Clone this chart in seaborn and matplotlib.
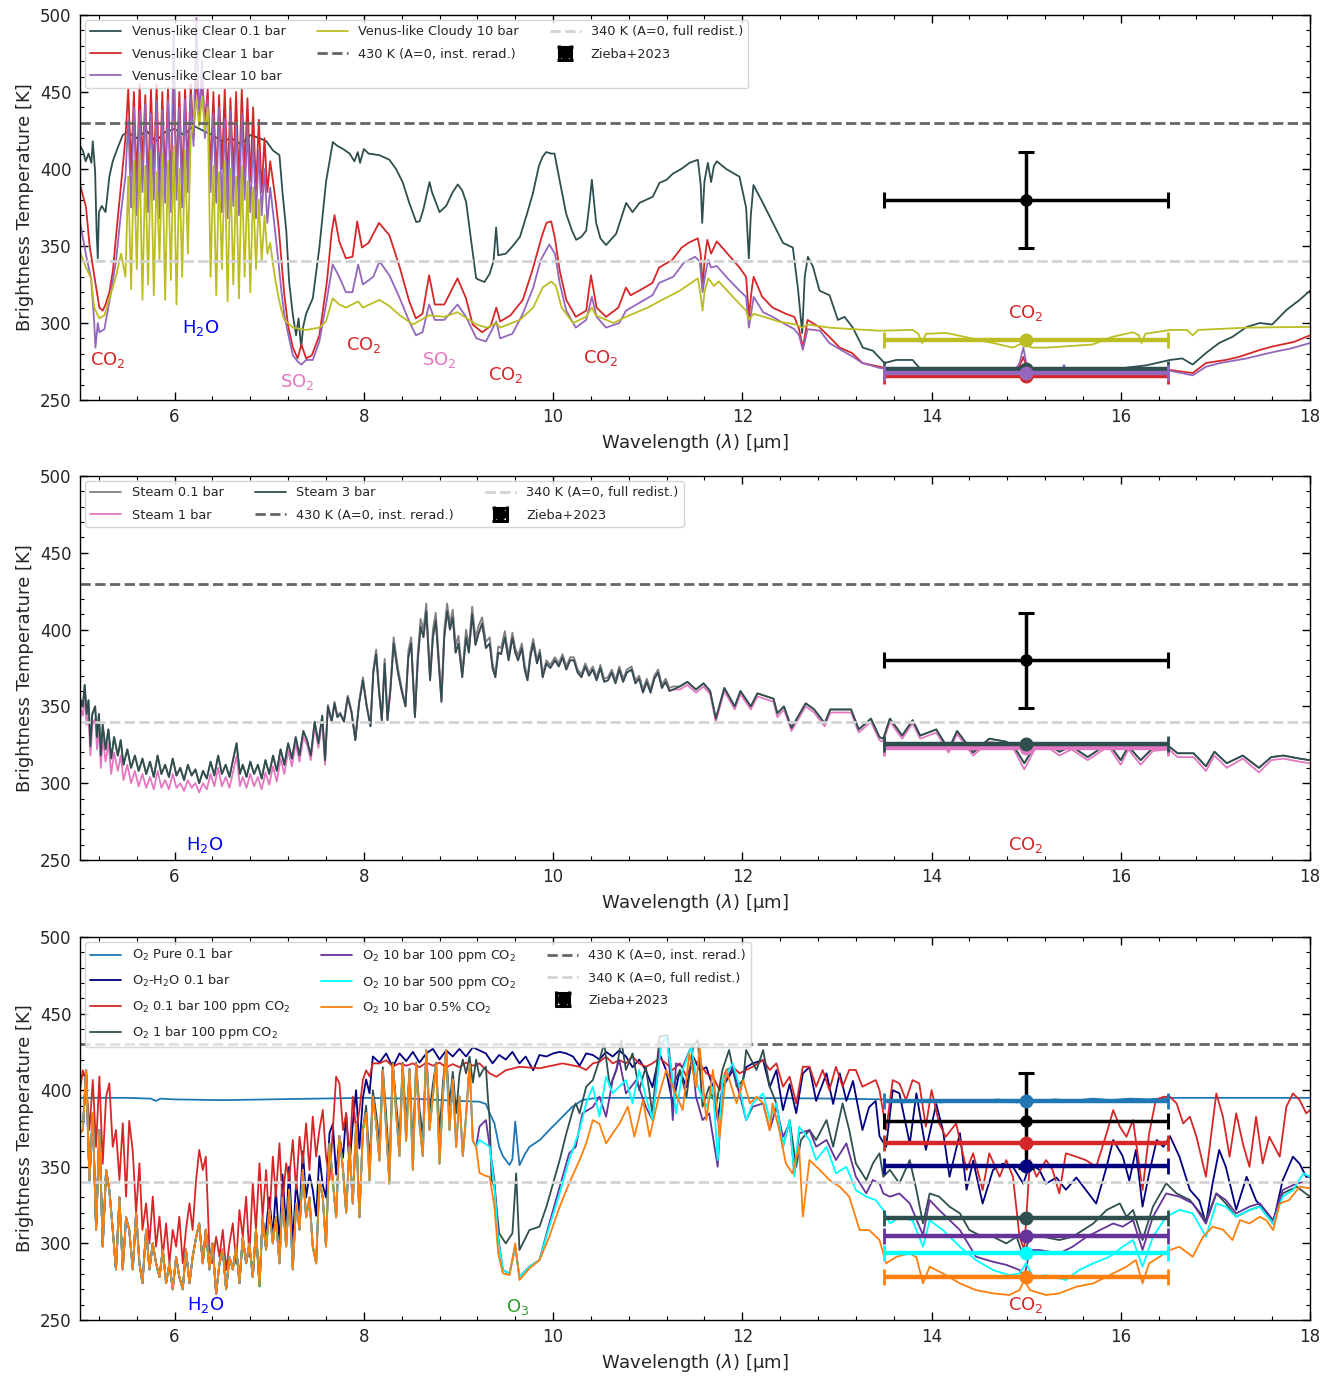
import matplotlib
matplotlib.use("Agg")
import matplotlib.pyplot as plt
from matplotlib.ticker import MultipleLocator
import seaborn as sns

# ============================ DATA ============================
# ---- Panel 1 : Venus-like atmospheres ----
P1_SPIKE_WL = [5.48, 5.51, 5.54, 5.57, 5.60, 5.63, 5.66, 5.69, 5.72, 5.75, 5.78, 5.81, 5.84, 5.87, 5.90,
               5.93, 5.96, 5.99, 6.02, 6.05, 6.08, 6.11, 6.14, 6.17, 6.20, 6.23, 6.26, 6.29, 6.32, 6.35,
               6.38, 6.41, 6.44, 6.47, 6.50, 6.53, 6.56, 6.59, 6.62, 6.65, 6.68, 6.71, 6.74, 6.77, 6.80,
               6.83, 6.86, 6.89, 6.92, 6.95, 6.98, 7.01, 7.04, 7.07, 7.10, 7.13, 7.16]

clear01_wl = [5.00, 5.03, 5.06, 5.09, 5.12, 5.135, 5.16, 5.175, 5.188, 5.20, 5.23, 5.27, 5.31, 5.346, 5.40,
              5.452, 5.50, 5.60, 5.70, 5.80, 5.90, 6.00, 6.10, 6.20, 6.30, 6.40, 6.50, 6.60, 6.70, 6.80,
              6.90, 6.97, 7.04, 7.108, 7.14, 7.18, 7.21, 7.25, 7.284, 7.31, 7.337, 7.36, 7.39, 7.46, 7.53,
              7.60, 7.672, 7.72, 7.78, 7.85, 7.90, 7.936, 7.96, 8.00, 8.05, 8.165, 8.27, 8.34, 8.41, 8.48,
              8.553, 8.59, 8.63, 8.694, 8.72, 8.80, 8.87, 8.94, 8.993, 9.04, 9.081, 9.12, 9.187, 9.22, 9.275,
              9.33, 9.37, 9.398, 9.42, 9.50, 9.574, 9.65, 9.72, 9.786, 9.85, 9.89, 9.927, 9.98, 10.015, 10.068,
              10.138, 10.20, 10.244, 10.30, 10.35, 10.38, 10.41, 10.455, 10.50, 10.56, 10.667, 10.772, 10.84,
              10.913, 11.054, 11.125, 11.20, 11.266, 11.354, 11.442, 11.53, 11.56, 11.576, 11.60, 11.636,
              11.67, 11.70, 11.73, 11.83, 11.97, 12.04, 12.069, 12.09, 12.118, 12.217, 12.323, 12.43, 12.534,
              12.587, 12.633, 12.66, 12.693, 12.746, 12.816, 12.922, 13.01, 13.08, 13.168, 13.274, 13.38,
              13.503, 13.627, 13.80, 13.87, 14.00, 14.16, 14.50, 14.86, 14.95, 15.00, 15.10, 15.21, 15.50,
              15.91, 16.06, 16.27, 16.52, 16.65, 16.76, 16.90, 17.04, 17.18, 17.33, 17.47, 17.60, 17.75,
              17.89, 18.00]
clear01_T = [415, 412, 405, 410, 404, 418, 398, 360, 342, 372, 376, 372, 395, 405, 414, 422, 424, 420, 425, 418,
             424, 426, 422, 428, 425, 422, 418, 420, 416, 422, 420, 418, 412, 409, 385, 360, 327, 305, 292, 303,
             284, 298, 306, 316, 349, 391.5, 417.5, 415, 413, 410, 405, 411, 404, 413, 410, 409, 406, 400, 391.5, 378,
             365.6, 366, 374, 391.5, 385, 372, 376, 385, 390, 386, 378.6, 360, 329, 328, 326.6, 332, 340, 362, 344, 345,
             350, 356, 370, 384, 402, 408, 411, 410, 410, 393, 371, 360, 354, 356, 360, 375, 393, 365, 355, 350.6,
             358, 378, 372, 378, 382, 391, 393, 397, 400, 404, 406, 390, 365, 392, 404, 391.5, 402, 405, 400, 395,
             375, 342, 370, 389.6, 378, 365, 352, 349, 323, 293.5, 330, 343, 336.7, 321, 318, 302, 304, 297, 284, 282,
             274, 276, 276, 271, 270, 268.5, 268, 268.5, 272, 270, 267, 266, 267, 268, 271, 272.5, 276, 277, 273, 280.5,
             287, 291, 297.4, 300, 299, 308.4, 315, 321]

clear1_head_wl = [5.00, 5.03, 5.064, 5.10, 5.15, 5.205, 5.24, 5.27, 5.311, 5.35, 5.38, 5.434]
clear1_head_T = [390, 383, 375, 351, 331, 310, 308, 312, 320, 335, 356, 390]
clear1_spike_T = [420, 452, 398, 450, 390, 455, 402, 448, 388, 452, 395, 455, 386, 450, 392, 453, 388, 456, 396, 450,
                  390, 452, 400, 455, 420, 458, 440, 456, 430, 452, 398, 450, 392, 448, 400, 452, 390, 446, 395, 450,
                  388, 452, 398, 446, 392, 440, 386, 432, 385, 420, 385, 405, 392, 378, 362, 340, 318]
clear1_tail_wl = [7.20, 7.25, 7.30, 7.34, 7.39, 7.45, 7.53, 7.61, 7.66, 7.69, 7.74, 7.81, 7.88, 7.93, 7.98, 8.05,
                  8.16, 8.27, 8.38, 8.48, 8.55, 8.62, 8.69, 8.75, 8.85, 8.99, 9.08, 9.15, 9.25, 9.34, 9.40, 9.44,
                  9.55, 9.68, 9.78, 9.88, 9.93, 9.98, 10.02, 10.07, 10.14, 10.24, 10.35, 10.40, 10.46, 10.56, 10.69,
                  10.77, 10.82, 10.91, 11.05, 11.12, 11.26, 11.36, 11.43, 11.53, 11.56, 11.58, 11.60, 11.63, 11.67,
                  11.73, 11.83, 11.97, 12.04, 12.07, 12.10, 12.12, 12.21, 12.32, 12.46, 12.55, 12.60, 12.64, 12.69,
                  12.81, 12.92, 13.03, 13.16, 13.27, 13.45, 13.63, 13.80, 14.16, 14.50, 14.85, 14.93, 14.97, 15.02,
                  15.10, 15.35, 15.40, 15.45, 15.90, 16.52, 16.76, 16.90, 17.11, 17.25, 17.47, 17.60, 17.83, 18.00]
clear1_tail_T = [298, 284, 277, 286, 277, 279, 292, 327, 359, 370, 353, 342, 343, 366, 349, 352, 365, 357, 336, 314,
                 303, 306, 331, 312, 312, 329, 316, 299, 294, 298, 310, 301, 305, 315, 334, 356, 365, 366, 355, 334,
                 315, 304, 308, 331, 310, 304, 310, 323, 318, 321, 326, 336, 341, 349, 352, 355, 345, 323, 340, 354,
                 345, 353, 346, 336, 330, 304, 322, 330, 317, 310, 306, 304, 296, 284, 302, 297.5, 291, 284, 280.5, 274,
                 271.6, 269.5, 269.5, 266, 265.5, 266, 272, 278, 268, 266, 266, 269, 266, 265.5, 269.5, 267.5, 274, 276,
                 278, 282.5, 284.7, 287.7, 292]

clear10_head_wl = [5.00, 5.064, 5.117, 5.15, 5.163, 5.188, 5.205, 5.258, 5.311, 5.38, 5.434]
clear10_head_T = [366, 344, 329, 301, 284, 300, 294, 296, 314, 340, 372]
clear10_spike_T = [395, 432, 375, 440, 370, 438, 385, 442, 372, 436, 380, 444, 368, 438, 378, 445, 372, 490, 380, 440,
                   375, 445, 385, 448, 415, 498, 430, 470, 420, 445, 385, 436, 378, 440, 372, 432, 368, 438, 376, 430,
                   370, 436, 380, 428, 372, 420, 368, 412, 370, 400, 365, 388, 372, 355, 338, 320, 305]
clear10_tail_wl = [7.21, 7.25, 7.30, 7.34, 7.39, 7.46, 7.53, 7.60, 7.67, 7.74, 7.81, 7.88, 7.94, 7.99, 8.10, 8.165,
                   8.27, 8.38, 8.48, 8.55, 8.62, 8.69, 8.75, 8.85, 8.99, 9.08, 9.19, 9.29, 9.40, 9.44, 9.57, 9.68,
                   9.79, 9.87, 9.96, 10.02, 10.07, 10.14, 10.24, 10.35, 10.41, 10.46, 10.56, 10.70, 10.77, 10.91,
                   11.05, 11.12, 11.27, 11.38, 11.50, 11.55, 11.58, 11.61, 11.64, 11.67, 11.73, 11.83, 11.97, 12.04,
                   12.07, 12.12, 12.22, 12.32, 12.46, 12.55, 12.60, 12.64, 12.69, 12.82, 12.92, 13.03, 13.17, 13.27,
                   13.45, 13.63, 13.80, 14.16, 14.50, 14.85, 14.93, 14.97, 15.02, 15.10, 15.35, 15.40, 15.45, 15.90,
                   16.52, 16.76, 16.90, 17.05, 17.33, 17.60, 17.80, 18.00]
clear10_tail_T = [290, 279, 275, 273, 276, 276, 288, 312, 338, 330, 320, 320, 338, 325, 330, 340, 331, 316, 301, 292,
                  294, 312, 302, 302, 312, 304, 290, 288, 301, 290, 293, 306, 323, 341, 351, 345, 326, 308, 297, 302,
                  317, 304, 297, 300, 308, 313, 318, 326, 330, 339, 343, 340, 320, 332, 341, 336, 337, 330, 321, 317,
                  297, 317, 307, 304, 299, 296, 292, 282.5, 296, 295, 287, 283, 278, 274, 270.8, 269.5, 269.5, 266, 266,
                  266, 274, 284, 268, 266, 266, 272.7, 266, 266, 269, 266, 271.6, 274, 277, 281, 283.5, 287]

cloudy10_head_wl = [5.00, 5.064, 5.117, 5.15, 5.205, 5.258, 5.311, 5.38, 5.434]
cloudy10_head_T = [346, 336, 329, 310, 303, 305, 316, 330, 345]
cloudy10_spike_T = [330, 395, 322, 405, 335, 410, 315, 402, 325, 412, 318, 398, 340, 410, 315, 405, 328, 415, 312, 400,
                    330, 412, 345, 420, 430, 445, 428, 447, 425, 440, 330, 402, 318, 398, 335, 405, 314, 400, 325, 395,
                    316, 402, 330, 392, 320, 388, 335, 380, 340, 370, 345, 352, 338, 326, 316, 308, 302]
cloudy10_tail_wl = [7.18, 7.25, 7.39, 7.53, 7.60, 7.67, 7.74, 7.81, 7.94, 7.99, 8.165, 8.27, 8.38, 8.52, 8.69, 8.85,
                    8.99, 9.19, 9.30, 9.40, 9.44, 9.65, 9.79, 9.89, 9.98, 10.03, 10.09, 10.21, 10.35, 10.41, 10.45,
                    10.64, 10.77, 11.00, 11.12, 11.34, 11.53, 11.56, 11.58, 11.60, 11.64, 11.70, 11.75, 11.90, 12.04,
                    12.07, 12.12, 12.23, 12.38, 12.57, 12.63, 12.69, 12.92, 13.17, 13.45, 13.80, 13.86, 13.90, 13.94,
                    14.16, 14.65, 14.86, 14.96, 15.06, 15.21, 15.70, 15.91, 16.13, 16.19, 16.22, 16.26, 16.52, 16.70,
                    16.76, 16.82, 17.33, 18.00]
cloudy10_tail_T = [301, 297, 295.5, 297, 301, 316, 312, 310, 314, 310, 315, 311, 305, 299, 305, 304, 307, 299, 297, 300,
                   297, 302, 310, 323, 327, 324, 310, 300, 304, 310, 305, 300, 304, 310, 314, 321, 329, 318, 308, 320,
                   329, 324, 327, 317, 308, 302, 306, 304, 301, 299, 297, 299, 297, 296, 295, 295.5, 293, 287, 293, 293.5,
                   287, 284, 287, 284, 284, 286, 291, 294, 292, 287, 293, 295.5, 295.5, 292, 295.5, 297, 297.5]

P1_BAND_T = [270.0, 265.3, 267.5, 288.8]      # Clear 0.1, Clear 1, Clear 10, Cloudy 10 (15 um band)

# ---- Panel 2 : Steam atmospheres ----
steam_wl_a = [5.00, 5.01, 5.03, 5.05, 5.07, 5.09, 5.11, 5.13, 5.16, 5.18, 5.20, 5.22, 5.24, 5.27, 5.30, 5.33, 5.36,
              5.40, 5.43, 5.46, 5.50, 5.54, 5.58, 5.62, 5.66, 5.70, 5.74, 5.78, 5.82, 5.86, 5.90, 5.94, 5.98, 6.02,
              6.06, 6.10, 6.14, 6.18, 6.22, 6.26, 6.30, 6.34, 6.38, 6.42, 6.46, 6.50, 6.54, 6.58, 6.62, 6.655, 6.69,
              6.72, 6.76, 6.80, 6.84, 6.88, 6.92, 6.96, 7.00, 7.04, 7.08, 7.12, 7.16, 7.20, 7.24, 7.28, 7.32, 7.36,
              7.40, 7.44, 7.48, 7.52, 7.56, 7.59]
steam3_T_a = [345, 354, 350, 364, 345, 354, 324, 345, 350, 330, 345, 318, 338, 322, 335, 316, 330, 318, 328, 312,
              322, 310, 318, 308, 316, 306, 314, 304, 318, 306, 312, 304, 316, 305, 310, 302, 312, 305, 309, 300,
              308, 303, 314, 305, 318, 306, 312, 304, 316, 326, 306, 312, 304, 314, 306, 312, 303, 315, 306, 318,
              308, 322, 312, 326, 316, 330, 318, 334, 328, 318, 340, 326, 344, 315]
steam1_T_a = [340, 348, 344, 356, 338, 346, 318, 338, 342, 322, 336, 310, 330, 314, 326, 306, 320, 308, 318, 302,
              312, 300, 308, 298, 306, 297, 304, 296, 308, 297, 302, 296, 306, 297, 300, 295, 302, 297, 300, 294,
              300, 296, 306, 298, 310, 298, 304, 297, 308, 318, 298, 304, 297, 306, 298, 304, 296, 307, 299, 311,
              301, 316, 306, 321, 311, 326, 314, 330, 325, 315, 337, 323, 341, 312]
steam_wl_b = [7.62, 7.66, 7.69, 7.72, 7.75, 7.79, 7.83, 7.87, 7.91, 7.95, 7.99, 8.03, 8.07, 8.10, 8.13, 8.16, 8.19,
              8.22, 8.25, 8.28, 8.315, 8.36, 8.40, 8.44, 8.47, 8.50, 8.54, 8.57, 8.60, 8.63, 8.66, 8.70, 8.73, 8.76,
              8.79, 8.82, 8.85, 8.88, 8.91, 8.94, 8.97, 9.00, 9.04, 9.08, 9.11, 9.145, 9.18, 9.21, 9.25, 9.29, 9.33,
              9.36, 9.39, 9.42, 9.45, 9.49, 9.53, 9.57, 9.60, 9.63, 9.67, 9.70, 9.73, 9.76, 9.79, 9.83, 9.86, 9.89,
              9.93, 9.97, 10.02, 10.06, 10.10, 10.14, 10.18, 10.22, 10.26, 10.30, 10.34, 10.38, 10.42, 10.46, 10.50,
              10.54, 10.58, 10.62, 10.66, 10.70, 10.74, 10.78, 10.83, 10.87, 10.91, 10.95, 10.99, 11.03, 11.07,
              11.11, 11.15, 11.19, 11.23, 11.27]
steam3_T_b = [350, 340, 352, 343, 345, 340, 356, 346, 328, 352, 367, 350, 337, 372, 384, 360, 341, 378, 341, 360,
              391, 372, 360, 350, 382, 391, 343, 380, 402, 395, 412, 367, 395, 406, 380, 353, 395, 412, 400, 408,
              385, 391, 369, 395, 385, 410, 390, 397, 404, 388, 391, 375, 369, 385, 384, 395, 380, 395, 385, 380,
              388, 374, 367, 382, 391, 378, 385, 369, 378, 375, 380, 376, 382, 374, 380, 380, 372, 369, 376, 370,
              374, 367, 375, 366, 367, 372, 365, 374, 366, 372, 374, 365, 368, 359, 366, 359, 368, 372, 362, 366,
              360, 361]
steam01_T_b = [351, 341, 353, 344, 346, 341, 357, 347, 329, 353, 369, 351, 338, 374, 387, 362, 342, 381, 342, 362,
               395, 375, 362, 351, 386, 395, 344, 384, 407, 400, 417, 369, 400, 411, 384, 355, 400, 417, 404, 413,
               390, 396, 372, 400, 389, 415, 394, 402, 408, 392, 395, 378, 371, 389, 388, 399, 383, 398, 388, 383,
               391, 377, 369, 385, 394, 380, 387, 371, 380, 377, 382, 378, 384, 376, 382, 382, 374, 371, 378, 372,
               376, 369, 377, 368, 369, 374, 367, 376, 368, 374, 376, 367, 370, 361, 368, 361, 370, 374, 364, 368,
               362, 363]
steam_wl_c = [11.34, 11.42, 11.51, 11.59, 11.66, 11.72, 11.81, 11.92, 11.98, 12.09, 12.16, 12.33, 12.37, 12.44, 12.52,
              12.67, 12.76, 12.87, 12.93, 13.06, 13.15, 13.23, 13.36, 13.45, 13.49, 13.56, 13.69, 13.80, 13.88, 14.05,
              14.18, 14.27, 14.44, 14.61, 14.79, 14.87, 14.98, 15.09, 15.22, 15.35, 15.48, 15.65, 15.87, 16.00, 16.08,
              16.21, 16.34, 16.51, 16.60, 16.77, 16.90, 16.99, 17.12, 17.29, 17.46, 17.59, 17.72, 17.89, 18.00]
steam3_T_c = [363, 366, 361, 365, 360, 342, 362, 350, 360, 350, 358.5, 355, 345.5, 350, 336, 352, 348, 339, 348, 348,
              348, 335, 342, 330, 329, 342, 331, 341, 331, 335, 322, 334, 320, 329, 327, 324, 313, 324, 326, 320.5,
              324, 317, 326, 315, 324, 315, 323, 324, 319.5, 319.5, 311, 320.5, 313, 318, 310, 317, 318, 316, 315]
steam1_T_c = [361, 364, 359, 363, 358, 340, 360, 348, 358, 348, 356.5, 353, 343, 348, 334, 350, 346, 337, 346, 346,
              346, 333, 340, 328, 327, 340, 329, 339, 329, 333, 320, 332, 318, 327, 325, 322, 309, 322, 324, 318,
              322, 315, 324, 312, 322, 312, 321, 322, 317, 317, 308, 318, 310, 316, 307, 315, 316, 314, 313]

P2_BAND_T = [324.0, 323.0, 325.3]            # Steam 0.1, Steam 1, Steam 3

# ---- Panel 3 : O2 atmospheres ----
o2_wl_a = [5.00, 5.03, 5.065, 5.10, 5.135, 5.17, 5.205, 5.24, 5.276, 5.31, 5.346, 5.38, 5.417, 5.452, 5.487, 5.52,
           5.558, 5.593, 5.628, 5.66, 5.699, 5.734, 5.769, 5.804, 5.84, 5.875, 5.91, 5.945, 5.98, 6.016, 6.05,
           6.086, 6.12, 6.157, 6.19, 6.227, 6.26, 6.298, 6.33, 6.368, 6.40, 6.439, 6.474, 6.509, 6.544, 6.58,
           6.615, 6.65, 6.685, 6.72, 6.756, 6.79, 6.826, 6.86, 6.897, 6.93, 6.967, 7.00, 7.038, 7.07, 7.108, 7.14,
           7.179, 7.21, 7.249, 7.284, 7.32, 7.355, 7.39, 7.425, 7.46, 7.496, 7.53, 7.566, 7.60, 7.637, 7.672,
           7.707, 7.742, 7.78, 7.813, 7.848, 7.883, 7.918, 7.953, 7.99]
o2_base_T_a = [372, 374, 413, 341, 385, 309, 374, 298, 348, 335, 309, 283, 330, 283, 317, 309, 283, 320, 287, 274,
               309, 283, 300, 287, 278, 296, 274, 287, 270, 291, 278, 270, 296, 274, 291, 304, 313, 287, 309, 283,
               300, 267, 287, 296, 270, 291, 283, 298, 274, 304, 287, 300, 278, 309, 272, 317, 296, 322, 300, 317,
               287, 330, 298, 335, 283, 326, 309, 348, 317, 330, 298, 287, 341, 330, 298, 365, 341, 317, 370, 348,
               320, 363, 326, 378, 317, 374]
o2_wl_b = [8.024, 8.06, 8.095, 8.13, 8.165, 8.20, 8.236, 8.27, 8.306, 8.341, 8.377, 8.41, 8.447, 8.483, 8.518, 8.553,
           8.588, 8.623, 8.66, 8.694, 8.73, 8.764, 8.80, 8.835, 8.87, 8.905, 8.94, 8.976, 9.01, 9.046, 9.08, 9.117,
           9.152, 9.187]
o2_spiky_T_b = [385, 341, 396, 378, 354, 413, 374, 339, 417, 385, 357, 417, 367, 413, 348, 417, 378, 357, 426, 374,
                396, 417, 352, 396, 426, 374, 407, 363, 396, 357, 383, 417, 367, 363]
o2_1bar_T_b = [390, 352, 400, 385, 365, 415, 384, 350, 418, 392, 368, 418, 378, 414, 362, 418, 388, 370, 426, 385,
               404, 418, 372, 404, 426, 390, 412, 385, 410, 420, 411, 422, 405, 420]

o2pure_wl = [5.0, 5.5, 5.75, 5.80, 5.85, 6.0, 6.5, 7.0, 7.5, 8.0, 8.5, 9.0, 9.222, 9.29, 9.33, 9.38, 9.43, 9.47, 9.50,
             9.54, 9.57, 9.60, 9.645, 9.70, 9.75, 9.86, 9.96, 10.1, 10.2, 10.31, 10.46, 11.0, 12.0, 13.0, 13.5, 13.7,
             13.9, 14.1, 14.3, 14.5, 14.7, 14.9, 15.0, 15.1, 15.3, 15.5, 15.7, 15.9, 16.1, 16.3, 16.5, 17.0, 18.0]
o2pure_T = [395, 395, 394.5, 393, 394.5, 394, 393.5, 394, 394.5, 395, 394.5, 393, 392.5, 391, 385, 378.4, 363, 357,
            354.4, 351.2, 355, 379.5, 351, 358, 363, 367.5, 374, 382.7, 389, 393.6, 395, 395, 395, 394.5, 394, 392,
            393.5, 392, 393.5, 392.5, 394, 392, 393, 392.5, 394, 393, 394.5, 393.5, 394.5, 394, 395, 395, 395]

o2h2o_wl_b = [6.967, 7.00, 7.038, 7.07, 7.108, 7.14, 7.179, 7.21, 7.249, 7.284, 7.32, 7.355, 7.39, 7.425, 7.46, 7.496,
              7.53, 7.566, 7.60, 7.637, 7.672, 7.707, 7.742, 7.78, 7.813, 7.848, 7.883, 7.918, 7.953, 7.99, 8.024,
              8.06, 8.095, 8.165, 8.236, 8.306, 8.377, 8.447, 8.518, 8.588, 8.66, 8.73, 8.80, 8.87, 8.94, 9.01, 9.08,
              9.152, 9.222, 9.29, 9.36, 9.43, 9.50, 9.57, 9.645, 9.71, 9.79, 9.856, 9.93, 10.0, 10.07, 10.14, 10.21,
              10.28, 10.35, 10.42, 10.49, 10.56, 10.63, 10.70, 10.77, 10.84, 10.91, 10.98, 11.05, 11.125, 11.195,
              11.265, 11.34, 11.41, 11.48, 11.55, 11.62, 11.69, 11.74, 11.79, 11.90, 11.97, 12.04, 12.11, 12.22,
              12.29, 12.36, 12.43, 12.50, 12.57, 12.64, 12.71, 12.78, 12.89, 12.96, 13.03, 13.10, 13.17, 13.27,
              13.34, 13.41, 13.45, 13.52, 13.59, 13.66, 13.77, 13.84, 13.94, 14.05, 14.12, 14.19, 14.30, 14.37,
              14.44, 14.54, 14.65, 14.75, 14.86, 14.97, 15.04, 15.14, 15.21, 15.32, 15.42, 15.53, 15.63, 15.74,
              15.85, 15.92, 16.02, 16.09, 16.16, 16.23, 16.30, 16.38, 16.45, 16.52, 16.62, 16.73, 16.83, 16.90,
              16.97, 17.04, 17.11, 17.22, 17.33, 17.43, 17.54, 17.61, 17.71, 17.82, 17.89, 17.96, 18.00]
o2h2o_T_b = [310, 330, 305, 335, 300, 345, 310, 350, 300, 340, 320, 360, 330, 345, 335, 318, 357, 338, 330, 372,
             378, 345, 370, 356, 385, 350, 378, 400, 362, 395, 407, 398, 422, 418, 424, 415, 424, 419, 425, 418,
             424, 427, 420, 426, 422, 427, 422, 428, 426, 424, 417.5, 423, 420, 425, 417.5, 422, 413, 423, 422, 424,
             425, 424, 422, 416, 424, 423, 420, 425, 422, 426, 422, 415, 420, 413, 402, 424, 413, 391, 413, 402,
             422, 413, 415, 402, 380.5, 402, 413, 398, 415, 417.5, 419.7, 402, 413, 387, 404, 385, 411, 415, 393, 411,
             391, 411, 393, 406, 374, 389, 393, 370, 363, 400, 398, 365, 398, 361, 391, 374, 343.5, 372, 335, 354,
             326, 348, 352, 350, 339, 352, 348, 339, 343, 335, 343, 335, 326, 350, 367.5, 357, 341, 361, 324, 345.7,
             367.5, 363, 370, 356.6, 335, 328, 313, 339, 361, 350, 322, 343.5, 328, 320, 313, 341, 356.6, 352, 343.5,
             343.5]

o2co2_01_T_a = [400, 413, 406.7, 374, 406.7, 363, 409, 352, 395.8, 404.5, 363, 374, 341.4, 378.4, 330.5, 380, 360,
                319.6, 352.3, 308.8, 326.2, 300, 330.5, 297.9, 317.5, 291.3, 313.1, 287, 308.8, 297.9, 317.5, 287,
                308.8, 326.2, 308.8, 341.4, 361, 347.9, 356.6, 295.7, 287, 304.4, 291.3, 308.8, 282.6, 300, 313.1,
                287, 321.8, 304.4, 330.5, 291.3, 339.2, 308.8, 352.3, 317.5, 347.9, 313.1, 356.6, 330.5, 365.3,
                326.2, 352.3, 341.4, 367.5, 334.9, 369.7, 352.3, 378.4, 347.9, 382.7, 356.6, 374, 387.1, 356.6,
                341.4, 374, 408.8, 404.5, 374, 384.9, 356.6, 395.8, 374, 387.1, 406.7]
o2co2_01_wl_b = [8.024, 8.06, 8.095, 8.165, 8.236, 8.306, 8.377, 8.447, 8.518, 8.588, 8.66, 8.73, 8.80, 8.87, 8.94,
                 9.01, 9.08, 9.152, 9.222, 9.33, 9.40, 9.50, 9.645, 9.856, 10.1, 10.28, 10.35, 10.42, 10.49, 10.56,
                 10.63, 10.70, 10.77, 10.84, 10.91, 10.98, 11.05, 11.125, 11.195, 11.265, 11.34, 11.41, 11.48, 11.55,
                 11.62, 11.69, 11.76, 11.83, 11.90, 11.97, 12.04, 12.11, 12.22, 12.29, 12.36, 12.43, 12.50, 12.57,
                 12.64, 12.71, 12.78, 12.85, 12.92, 12.99, 13.06, 13.13, 13.20, 13.27, 13.34, 13.41, 13.45, 13.52,
                 13.59, 13.66, 13.73, 13.80, 13.87, 13.94, 14.0, 14.08, 14.15, 14.26, 14.37, 14.44, 14.54, 14.61,
                 14.72, 14.79, 14.86, 14.93, 14.98, 15.04, 15.11, 15.21, 15.28, 15.35, 15.42, 15.53, 15.63, 15.74,
                 15.85, 15.92, 15.99, 16.06, 16.13, 16.23, 16.30, 16.37, 16.45, 16.52, 16.59, 16.66, 16.73, 16.80,
                 16.90, 17.01, 17.08, 17.15, 17.22, 17.29, 17.36, 17.43, 17.50, 17.57, 17.68, 17.75, 17.82, 17.89,
                 17.96, 18.00]
o2co2_01_T_b = [413, 409, 417.5, 417.5, 419.5, 415.5, 417.5, 416, 417.5, 415, 418, 416, 418, 415, 417, 415, 418, 416,
                417.5, 411, 408.8, 413, 415.3, 414.3, 417.5, 415.3, 413.2, 417.5, 418.6, 421.9, 417.5, 419.7, 417.5,
                421.9, 417.5, 415.3, 417.5, 420.8, 417.5, 413.2, 417.5, 408.8, 419.7, 417.5, 411, 408.8, 400.1, 413.2,
                415.3, 411, 413.2, 415.3, 419.7, 413.2, 417.5, 402.3, 408.8, 391.4, 415.3, 415.3, 402.3, 413.2, 400.1,
                415.3, 402.3, 413.2, 413.2, 402.3, 404.5, 406.6, 400.1, 374, 406.6, 404.4, 393.6, 406.6, 404.4, 376.2,
                400.1, 378.3, 369.6, 378.3, 347.9, 358.8, 334.8, 358.8, 343.5, 354.4, 343.5, 304.3, 295.7, 354.4,
                343.5, 354.4, 347.9, 332.6, 358.8, 356.6, 354.4, 350, 371.8, 387, 376.2, 369.6, 380.5, 334.8, 371.8,
                393.6, 395.7, 395.7, 391.4, 378.3, 382.7, 369.6, 343.5, 397.9, 382.7, 356.6, 384.9, 365.3, 350, 382.7,
                352.2, 369.6, 356.6, 389.2, 397.9, 393.6, 384.9, 387]

o2co2_1_wl_c = [9.222, 9.26, 9.29, 9.31, 9.33, 9.35, 9.38, 9.43, 9.50, 9.57, 9.61, 9.645, 9.75, 9.856, 9.93, 10.0,
                10.07, 10.14, 10.21, 10.24, 10.28, 10.35, 10.42, 10.49, 10.54, 10.60, 10.67, 10.72, 10.77, 10.84,
                10.91, 10.98, 11.05, 11.125, 11.21, 11.265, 11.34, 11.41, 11.48, 11.53, 11.58, 11.65, 11.72, 11.79,
                11.86, 11.94, 12.01, 12.04, 12.15, 12.22, 12.29, 12.36, 12.43, 12.50, 12.57, 12.62, 12.71, 12.78,
                12.89, 12.96, 13.06, 13.13, 13.20, 13.31, 13.38, 13.45, 13.49, 13.56, 13.66, 13.77, 13.84, 13.91,
                13.98, 14.08, 14.19, 14.30, 14.40, 14.54, 14.65, 14.79, 14.90, 14.97, 15.04, 15.18, 15.35, 15.49,
                15.71, 15.85, 15.99, 16.06, 16.13, 16.23, 16.34, 16.48, 16.59, 16.73, 16.90, 17.01, 17.11, 17.22,
                17.36, 17.47, 17.61, 17.71, 17.86, 18.00]
o2co2_1_T_c = [408.8, 413.2, 415.3, 395.8, 380.5, 341.4, 337, 306.6, 300, 306.6, 345.7, 295.7, 308.7, 310.9, 324,
               339.2, 354.4, 371.8, 387.1, 391.4, 384.9, 402.3, 406.6, 419.7, 430.6, 402.3, 413.2, 432.7, 413.2, 424,
               400.1, 415.3, 384.9, 435, 436, 402.3, 413.2, 395.8, 428.4, 432.7, 389.2, 402.3, 389.2, 413.2, 426.2,
               402.3, 406.6, 426.2, 413.2, 426.2, 402.3, 391.4, 363.1, 380.5, 350, 367.5, 374, 367.5, 380.5, 363.1,
               391.4, 374, 352.2, 341.4, 352.2, 358.8, 343.5, 348, 339.2, 354.4, 334.8, 313.1, 332.6, 330.5, 324,
               319.6, 308.7, 304.3, 304.3, 300, 304.3, 291.3, 304.3, 304.3, 302.2, 304.3, 313, 321.8, 326.1, 317.4,
               321.8, 302.2, 324, 339.2, 332.6, 328.3, 315.2, 332.6, 326.1, 317.4, 321.8, 324, 313, 332.6, 337, 330.5]

o2co2_10_wl_c = [9.222, 9.29, 9.38, 9.42, 9.47, 9.54, 9.60, 9.645, 9.75, 9.856, 9.96, 10.07, 10.17, 10.24, 10.31,
                 10.42, 10.49, 10.56, 10.63, 10.70, 10.77, 10.88, 10.98, 11.05, 11.14, 11.21, 11.265, 11.30, 11.37,
                 11.46, 11.51, 11.58, 11.65, 11.74, 11.79, 11.90, 11.97, 12.04, 12.11, 12.22, 12.29, 12.36, 12.43,
                 12.50, 12.55, 12.60, 12.71, 12.78, 12.89, 12.99, 13.10, 13.20, 13.31, 13.38, 13.45, 13.49, 13.56,
                 13.66, 13.77, 13.91, 13.98, 14.08, 14.19, 14.30, 14.47, 14.65, 14.79, 14.93, 14.98, 15.04, 15.14,
                 15.35, 15.49, 15.64, 15.78, 15.92, 16.02, 16.13, 16.23, 16.34, 16.48, 16.62, 16.76, 16.90, 17.01,
                 17.11, 17.22, 17.36, 17.47, 17.61, 17.71, 17.86, 17.96, 18.00]
o2co2_10_T_c = [376.2, 380.5, 341.4, 304.4, 282.6, 280.4, 297.8, 278.2, 284.8, 289.1, 313, 337, 358.8, 363.1, 384.9,
                389, 395.8, 382.7, 406.6, 419.7, 397.9, 406.6, 389.2, 380.5, 430.6, 434.9, 380.5, 417.5, 415.3, 428.4,
                395.8, 380.5, 384.9, 350, 402.3, 415.3, 397.9, 380.5, 389.2, 391.4, 374, 389.2, 369.6, 378.4, 345.7,
                371.8, 374, 363.1, 367.5, 354.4, 365.3, 343.5, 332.7, 341.4, 339.2, 332.6, 330.5, 332.6, 326.1, 305.4,
                328.3, 321.8, 315.2, 308.7, 291.3, 288, 286, 282.6, 278.2, 295.7, 295.7, 293.5, 297.8, 304.3, 308.7,
                313, 310.9, 315.2, 295.7, 317.4, 332.6, 330.5, 326.1, 313, 332.6, 328.3, 319.6, 324, 326.1, 315.2,
                334.8, 339.2, 340.3, 339.2]

o2co2_500_wl_c = [9.222, 9.33, 9.38, 9.42, 9.47, 9.54, 9.60, 9.645, 9.75, 9.856, 9.96, 10.07, 10.17, 10.28, 10.35,
                  10.42, 10.49, 10.56, 10.63, 10.70, 10.77, 10.84, 10.91, 10.98, 11.05, 11.14, 11.195, 11.25, 11.30,
                  11.37, 11.46, 11.53, 11.62, 11.69, 11.74, 11.79, 11.90, 11.97, 12.04, 12.11, 12.22, 12.29, 12.36,
                  12.43, 12.50, 12.55, 12.60, 12.71, 12.78, 12.89, 12.99, 13.10, 13.20, 13.31, 13.41, 13.49, 13.56,
                  13.66, 13.80, 13.91, 13.98, 14.12, 14.30, 14.47, 14.65, 14.82, 14.93, 15.00, 15.07, 15.21, 15.42,
                  15.56, 15.71, 15.88, 16.02, 16.13, 16.23, 16.34, 16.48, 16.62, 16.76, 16.90, 17.01, 17.11, 17.22,
                  17.36, 17.47, 17.61, 17.71, 17.82, 17.93, 18.00]
o2co2_500_T_c = [367.5, 363.1, 337, 302.2, 282.6, 280.4, 297.8, 278.2, 284.8, 289.1, 310.9, 332.7, 354.4, 374, 391.4,
                 402.3, 382.7, 408.8, 398, 402.3, 406.6, 391.4, 413.2, 395.8, 380.5, 428.4, 435, 413.2, 384.9, 413.2,
                 428.4, 402.3, 389.2, 402.3, 354.4, 406.6, 417.5, 402.3, 380.5, 391.4, 397.9, 380.5, 391.4, 363.1,
                 380.5, 343.5, 376.2, 367.5, 354.4, 363, 345.7, 350, 334.8, 330.5, 328.3, 321.8, 313, 317, 315, 297.8,
                 315, 308.7, 297.8, 289.1, 282.6, 279.3, 280.4, 287, 278.2, 279.3, 276.1, 282.6, 287, 291.3, 297.8,
                 302.2, 284.8, 304.3, 317.4, 321.8, 319.6, 304.3, 326.1, 324, 317.4, 321.8, 324, 313, 330.5, 334.8,
                 345.7, 343.5]

o2co2_05pc_wl_c = [9.222, 9.29, 9.33, 9.38, 9.42, 9.47, 9.54, 9.60, 9.645, 9.75, 9.856, 9.96, 10.07, 10.17, 10.28,
                   10.35, 10.42, 10.49, 10.56, 10.63, 10.70, 10.79, 10.86, 10.95, 11.02, 11.125, 11.195, 11.265, 11.37,
                   11.44, 11.51, 11.55, 11.62, 11.69, 11.76, 11.83, 11.94, 12.01, 12.08, 12.15, 12.22, 12.29, 12.32,
                   12.39, 12.46, 12.53, 12.60, 12.64, 12.71, 12.82, 12.92, 13.03, 13.13, 13.24, 13.34, 13.45, 13.52,
                   13.63, 13.77, 13.84, 13.91, 13.98, 14.12, 14.30, 14.47, 14.65, 14.82, 14.93, 14.98, 15.04, 15.21,
                   15.35, 15.53, 15.71, 15.92, 16.06, 16.16, 16.23, 16.30, 16.41, 16.52, 16.62, 16.76, 16.87, 16.97,
                   17.08, 17.18, 17.26, 17.36, 17.47, 17.54, 17.61, 17.68, 17.78, 17.89, 18.00]
o2co2_05pc_T_c = [346, 344, 343.5, 324, 293.5, 280.4, 279.4, 300, 276.1, 283.7, 289.1, 304.4, 324, 339.2, 354.4, 365.3,
                  380.5, 378, 365.3, 371.8, 378, 389.2, 369.6, 393.6, 369.6, 397.9, 413.2, 402.3, 387.1, 424, 402.3,
                  428.4, 380.5, 413.2, 369.6, 413.2, 391.4, 406.6, 391.4, 395.8, 391.4, 374, 391.4, 374, 352.2, 345.7,
                  363.1, 317.4, 354.4, 347.9, 341.4, 337, 330.5, 308.7, 308.7, 302.2, 287, 291.3, 293.5, 291, 273.9,
                  284.8, 280.4, 273.9, 269.5, 267.4, 266.3, 269.5, 276.1, 269.5, 266.3, 267.4, 271.7, 273.9, 280.4,
                  284.8, 289.1, 273.9, 287, 291.3, 295.7, 297.8, 291.3, 304.3, 310.9, 309, 302.2, 315.2, 313, 317.4,
                  315, 308.7, 326.1, 328.3, 337, 336]

P3_BAND_T = [392.8, 350.5, 365.4, 316.4, 304.9, 293.5, 277.8]   # same order as panel-3 legend

# ---- common ----
ZIEBA_WL, ZIEBA_T, ZIEBA_TERR = 15.0, 380.0, 31.0
BAND_CENTER, BAND_HALF = 15.0, 1.5
T_INST, T_FULL = 430, 340

# ============================ STYLE ============================
sns.set_theme(style="ticks")
plt.rcParams["font.family"] = ["DejaVu Sans"]
plt.rcParams["mathtext.fontset"] = "dejavusans"

C_SLATE, C_RED, C_PURPLE, C_OLIVE = "#2f4f4f", "#d62728", "#9467bd", "#bcbd22"
C_GRAY, C_PINK = "#7f7f7f", "#e377c2"
C_BLUE, C_NAVY, C_RPURP, C_CYAN, C_ORANGE = "#1f77b4", "#000080", "#663399", "#00ffff", "#ff7f0e"
C_430, C_340 = "#666666", "#d3d3d3"

fig = plt.figure(figsize=(13.44, 13.78), dpi=100)
L, W = 80 / 1344, 1230 / 1344
ax1 = fig.add_axes([L, 1 - 400 / 1378, W, 385 / 1378])
ax2 = fig.add_axes([L, 1 - 860 / 1378, W, 384 / 1378])
ax3 = fig.add_axes([L, 1 - 1320 / 1378, W, 383 / 1378])


def spectrum(ax, wl, temp, color, label):
    sns.lineplot(x=wl, y=temp, ax=ax, color=color, lw=1.3, label=label, sort=False, estimator=None)


def references(ax):
    ax.axhline(T_INST, color=C_430, ls="--", lw=2.0, label="430 K (A=0, inst. rerad.)")
    ax.axhline(T_FULL, color=C_340, ls="--", lw=2.0, label="340 K (A=0, full redist.)")
    ax.errorbar(ZIEBA_WL, ZIEBA_T, xerr=BAND_HALF, yerr=ZIEBA_TERR, fmt="o", color="black", ms=8,
                elinewidth=2.5, capsize=6, capthick=2.2, label="Zieba+2023", zorder=4)


def band_points(ax, temps, colors):
    for t, c in zip(temps, colors):
        ax.errorbar(BAND_CENTER, t, xerr=BAND_HALF, fmt="o", color=c, ms=9, elinewidth=3.2,
                    capsize=6, capthick=2, zorder=5)


def style_axis(ax):
    ax.set_xlim(5, 18)
    ax.set_ylim(250, 500)
    ax.xaxis.set_major_locator(MultipleLocator(2))
    ax.xaxis.set_minor_locator(MultipleLocator(0.4))
    ax.yaxis.set_major_locator(MultipleLocator(50))
    ax.yaxis.set_minor_locator(MultipleLocator(10))
    ax.tick_params(which="both", direction="in", top=True, right=True, labelsize=12, pad=6)
    ax.tick_params(which="major", length=6, width=1.0, color="black")
    ax.tick_params(which="minor", length=3, width=0.8, color="black")
    ax.set_xlabel("Wavelength ($\\lambda$) [μm]", fontsize=13)
    ax.set_ylabel("Brightness Temperature [K]", fontsize=13)
    for s in ax.spines.values():
        s.set_linewidth(1.0)
        s.set_color("black")


def legend(ax):
    h, l = ax.get_legend_handles_labels()
    ax.legend(h, l, loc="upper left", ncol=3, fontsize=9.3, frameon=True, framealpha=0.8,
              edgecolor="#cccccc", fancybox=True, handlelength=2.4, columnspacing=2.4,
              labelspacing=0.72, borderaxespad=0.4)


def note(ax, x, y, txt, color):
    ax.text(x, y, txt, color=color, fontsize=13, ha="center", va="center")


# ---------------- Panel 1 ----------------
spectrum(ax1, clear01_wl, clear01_T, C_SLATE, "Venus-like Clear 0.1 bar")
spectrum(ax1, clear1_head_wl + P1_SPIKE_WL + clear1_tail_wl,
         clear1_head_T + clear1_spike_T + clear1_tail_T, C_RED, "Venus-like Clear 1 bar")
spectrum(ax1, clear10_head_wl + P1_SPIKE_WL + clear10_tail_wl,
         clear10_head_T + clear10_spike_T + clear10_tail_T, C_PURPLE, "Venus-like Clear 10 bar")
spectrum(ax1, cloudy10_head_wl + P1_SPIKE_WL + cloudy10_tail_wl,
         cloudy10_head_T + cloudy10_spike_T + cloudy10_tail_T, C_OLIVE, "Venus-like Cloudy 10 bar")
references(ax1)
band_points(ax1, P1_BAND_T, [C_SLATE, C_RED, C_PURPLE, C_OLIVE])
style_axis(ax1)
legend(ax1)
note(ax1, 5.29, 276, "CO$_2$", C_RED)
note(ax1, 6.28, 297, "H$_2$O", "#0000ff")
note(ax1, 7.30, 262, "SO$_2$", C_PINK)
note(ax1, 8.00, 286, "CO$_2$", C_RED)
note(ax1, 8.80, 276, "SO$_2$", C_PINK)
note(ax1, 9.50, 266, "CO$_2$", C_RED)
note(ax1, 10.50, 277, "CO$_2$", C_RED)
note(ax1, 15.00, 306.5, "CO$_2$", C_RED)

# ---------------- Panel 2 ----------------
wl_steam = steam_wl_a + steam_wl_b + steam_wl_c
spectrum(ax2, wl_steam, steam3_T_a + steam01_T_b + steam3_T_c, C_GRAY, "Steam 0.1 bar")
spectrum(ax2, wl_steam, steam1_T_a + steam3_T_b + steam1_T_c, C_PINK, "Steam 1 bar")
spectrum(ax2, wl_steam, steam3_T_a + steam3_T_b + steam3_T_c, C_SLATE, "Steam 3 bar")
references(ax2)
band_points(ax2, P2_BAND_T, [C_GRAY, C_PINK, C_SLATE])
style_axis(ax2)
legend(ax2)
note(ax2, 6.32, 260, "H$_2$O", "#0000ff")
note(ax2, 15.0, 260, "CO$_2$", C_RED)

# ---------------- Panel 3 ----------------
spectrum(ax3, o2pure_wl, o2pure_T, C_BLUE, "O$_2$ Pure 0.1 bar")
spectrum(ax3, o2_wl_a[:57] + o2h2o_wl_b, o2_base_T_a[:57] + o2h2o_T_b, C_NAVY, "O$_2$-H$_2$O 0.1 bar")
spectrum(ax3, o2_wl_a + o2co2_01_wl_b, o2co2_01_T_a + o2co2_01_T_b, C_RED, "O$_2$ 0.1 bar 100 ppm CO$_2$")
spectrum(ax3, o2_wl_a + o2_wl_b + o2co2_1_wl_c, o2_base_T_a + o2_1bar_T_b + o2co2_1_T_c, C_SLATE,
         "O$_2$ 1 bar 100 ppm CO$_2$")
spectrum(ax3, o2_wl_a + o2_wl_b + o2co2_10_wl_c, o2_base_T_a + o2_spiky_T_b + o2co2_10_T_c, C_RPURP,
         "O$_2$ 10 bar 100 ppm CO$_2$")
spectrum(ax3, o2_wl_a + o2_wl_b + o2co2_500_wl_c, o2_base_T_a + o2_spiky_T_b + o2co2_500_T_c, C_CYAN,
         "O$_2$ 10 bar 500 ppm CO$_2$")
spectrum(ax3, o2_wl_a + o2_wl_b + o2co2_05pc_wl_c, o2_base_T_a + o2_spiky_T_b + o2co2_05pc_T_c, C_ORANGE,
         "O$_2$ 10 bar 0.5% CO$_2$")
references(ax3)
band_points(ax3, P3_BAND_T, [C_BLUE, C_NAVY, C_RED, C_SLATE, C_RPURP, C_CYAN, C_ORANGE])
style_axis(ax3)
legend(ax3)
note(ax3, 6.33, 260, "H$_2$O", "#0000ff")
note(ax3, 9.63, 258.5, "O$_3$", "#2ca02c")
note(ax3, 15.0, 260, "CO$_2$", C_RED)

fig.savefig("out.png", dpi=100)
